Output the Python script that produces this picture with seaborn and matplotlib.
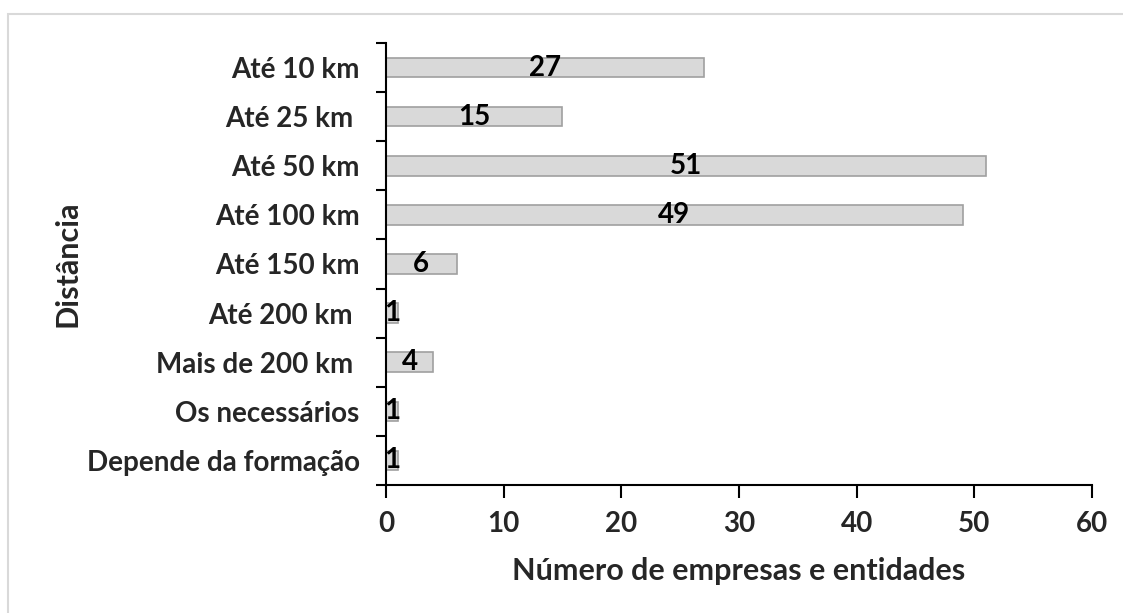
import pandas as pd
import matplotlib.pyplot as plt
import seaborn as sns
from matplotlib.patches import Rectangle

categories = ['Até 10 km', 'Até 25 km ', 'Até 50 km', 'Até 100 km', 'Até 150 km',
              'Até 200 km ', 'Mais de 200 km ', 'Os necessários', 'Depende da formação']
values = [27, 15, 51, 49, 6, 1, 4, 1, 1]

sns.set_theme(style='white')
plt.rcParams['font.family'] = ['Lato', 'DejaVu Sans']
plt.rcParams['font.weight'] = 'bold'

df = pd.DataFrame({'Distância': categories, 'Número': values})

fig = plt.figure(figsize=(11.23, 6.13), dpi=100)
ax = fig.add_axes([0.3437, 0.2088, 0.6287, 0.7211])

sns.barplot(data=df, y='Distância', x='Número', orient='h', ax=ax,
            color='#d9d9d9', edgecolor='#a0a0a0', linewidth=1.2, width=0.4,
            saturation=1)

ax.bar_label(ax.containers[0], label_type='center', fontsize=20,
             fontweight='bold', color='black')

ax.set_xlim(0, 60)
ax.set_ylim(len(categories) - 0.5, -0.5)
ax.set_xticks(range(0, 61, 10))

# category labels without ticks, boundary ticks as minor ticks
ax.set_yticks(range(len(categories)))
ax.set_yticklabels(categories)
ax.set_yticks([i - 0.5 for i in range(len(categories) + 1)], minor=True)
ax.tick_params(axis='y', which='major', length=0, pad=19, labelsize=20)
ax.tick_params(axis='y', which='minor', left=True, direction='out',
               length=7, width=1.5, color='black')
ax.tick_params(axis='x', bottom=True, direction='out', length=9, width=1.5,
               color='black', pad=10, labelsize=20)
for lbl in ax.get_xticklabels() + ax.get_yticklabels():
    lbl.set_fontweight('bold')

for side in ['top', 'right']:
    ax.spines[side].set_visible(False)
for side in ['left', 'bottom']:
    ax.spines[side].set_color('black')
    ax.spines[side].set_linewidth(1.5)

ax.set_xlabel('Número de empresas e entidades', fontsize=22, fontweight='bold',
              labelpad=14)
ax.set_ylabel('Distância', fontsize=22, fontweight='bold', labelpad=4)

# light frame around the chart area
fig.patches.append(Rectangle((8 / 1123, -0.1), 1.2, 1.1 - 15 / 613 + 0.001,
                             transform=fig.transFigure, fill=False,
                             edgecolor='#d9d9d9', linewidth=1.5))

fig.savefig('out.png', dpi=100)
